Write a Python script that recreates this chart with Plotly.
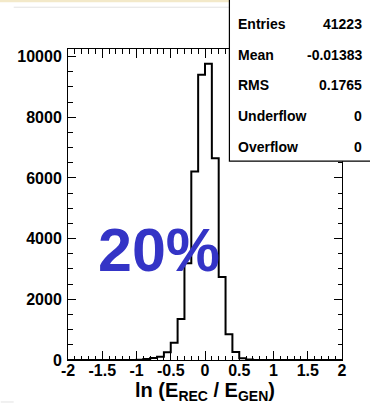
import numpy as np
import plotly.graph_objects as go

# Histogram of ln(E_REC / E_GEN), 0.1-wide bins on [-2, 2]
bin_width = 0.1
first_filled_bin = -1.0
counts = [12, 30, 66, 105, 256, 565, 1353, 3192, 6213, 9399,
          9760, 6650, 2736, 850, 263, 56, 15]

x_range = [-2, 2]
y_range = [0, 10250]
x_tick_vals = [-2, -1.5, -1, -0.5, 0, 0.5, 1, 1.5, 2]
x_tick_text = ["-2", "-1.5", "-1", "-0.5", "0", "0.5", "1", "1.5", "2"]
y_tick_vals = [0, 2000, 4000, 6000, 8000, 10000]
y_tick_text = ["0", "2000", "4000", "6000", "8000", "10000"]

stat_names = ["Entries", "Mean", "RMS", "Underflow", "Overflow"]
stat_values = ["41223", "-0.01383", "0.1765", "0", "0"]

label_text = "20%"
label_pos = (-0.673, 3630)

# step outline: each bin edge carries the height of the bin to its right
edges = np.round(first_filled_bin + bin_width * np.arange(len(counts) + 1), 6)
step_x = [x_range[0]] + list(edges) + [x_range[1]]
step_y = [0] + list(counts) + [0, 0]

W, H = 370, 410
L, R, T, B = 67.5, 342.5, 49.3, 360.5


def px(x):
    return (x - L) / (R - L)


def py(y):
    return (B - y) / (B - T)


def bold(s):
    return "<b>" + s + "</b>"


fig = go.Figure()
fig.add_trace(go.Scatter(
    x=step_x, y=step_y, mode="lines", line_shape="hv",
    line=dict(color="black", width=2), hoverinfo="skip", showlegend=False,
))

tick_font = dict(family="Liberation Sans, Arial, sans-serif", size=16,
                 color="black")

fig.update_xaxes(
    range=x_range, showgrid=False, zeroline=False,
    showline=True, linecolor="black", linewidth=1, mirror="allticks",
    ticks="inside", ticklen=9, tickwidth=1, tickcolor="black",
    tickvals=x_tick_vals, ticktext=[bold(t) for t in x_tick_text],
    tickfont=tick_font, ticklabelstandoff=-4,
    minor=dict(dtick=0.1, ticks="inside", ticklen=4.5, tickwidth=1,
               tickcolor="black", showgrid=False),
    title=dict(text="<b>ln (E<sub>REC</sub> / E<sub>GEN</sub>)</b>",
               font=dict(family="Liberation Sans, Arial, sans-serif",
                         size=20, color="black"),
               standoff=2),
)
fig.update_yaxes(
    range=y_range, showgrid=False, zeroline=False,
    showline=True, linecolor="black", linewidth=1, mirror="allticks",
    ticks="inside", ticklen=8, tickwidth=1, tickcolor="black",
    tickvals=y_tick_vals, ticktext=[bold(t) for t in y_tick_text],
    tickfont=tick_font, ticklabelstandoff=2,
    minor=dict(dtick=500, ticks="inside", ticklen=4.5, tickwidth=1,
               tickcolor="black", showgrid=False),
)

shapes = [
    # page band and frame line at the top
    dict(type="rect", xref="paper", yref="paper",
         x0=px(-5), x1=px(W + 5), y0=py(2.5), y1=py(-5),
         fillcolor="#f3e9c9", line=dict(width=0), layer="above"),
    dict(type="line", xref="paper", yref="paper",
         x0=px(13), x1=px(229), y0=py(7.5), y1=py(7.5),
         line=dict(color="#e2e2e2", width=1), layer="above"),
    dict(type="line", xref="paper", yref="paper",
         x0=px(0), x1=px(13), y0=py(402.5), y1=py(402.5),
         line=dict(color="#e2e2e2", width=1), layer="above"),
    # statistics box
    dict(type="rect", xref="paper", yref="paper",
         x0=px(229.5), x1=px(W + 10), y0=py(161.5), y1=py(-10),
         fillcolor="white", line=dict(color="black", width=1.2),
         layer="above"),
]

annotations = []
stat_font = dict(family="Liberation Sans, Arial, sans-serif", size=14,
                 color="black")
for i, (name, val) in enumerate(zip(stat_names, stat_values)):
    yc = 24 + 30.9 * i
    annotations.append(dict(
        xref="paper", yref="paper", x=px(236.5), y=py(yc),
        xanchor="left", yanchor="middle", text=bold(name), showarrow=False,
        font=stat_font))
    annotations.append(dict(
        xref="paper", yref="paper", x=px(365), y=py(yc),
        xanchor="right", yanchor="middle", text=bold(val), showarrow=False,
        font=stat_font))

annotations.append(dict(
    xref="x", yref="y", x=label_pos[0], y=label_pos[1],
    xanchor="center", yanchor="middle", text=bold(label_text),
    showarrow=False,
    font=dict(family="Liberation Sans, Arial, sans-serif", size=61,
              color="#3434c6")))

fig.update_layout(
    width=W, height=H,
    margin=dict(l=L, r=W - R, t=T, b=H - B, pad=0, autoexpand=False),
    paper_bgcolor="white", plot_bgcolor="white",
    shapes=shapes, annotations=annotations, showlegend=False,
)

fig.write_html("out.html")
